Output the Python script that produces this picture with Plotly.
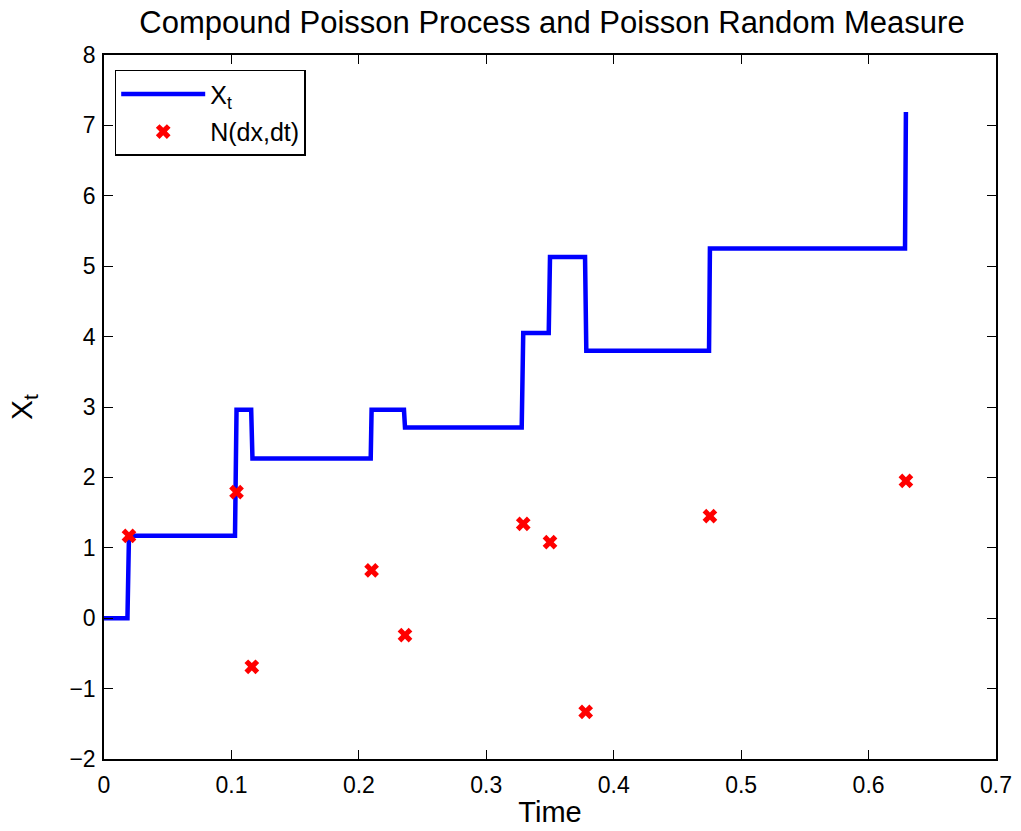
import plotly.graph_objects as go

# Path of the compound Poisson process X_t (vertices)
path_t = [0.0, 0.0184, 0.0196, 0.1028, 0.1040, 0.1155, 0.1165, 0.2093, 0.2100,
          0.2354, 0.2362, 0.3278, 0.3290, 0.3490, 0.3500, 0.3775, 0.3785,
          0.4748, 0.4755, 0.6286, 0.6293]
path_x = [0.0, 0.0, 1.17, 1.17, 2.96, 2.96, 2.27, 2.27, 2.96, 2.96, 2.71, 2.71,
          4.05, 4.05, 5.13, 5.13, 3.80, 3.80, 5.25, 5.25, 7.19]

# Poisson random measure atoms (jump time, jump size)
jump_t = [0.0196, 0.1040, 0.1160, 0.2100, 0.2362, 0.3290, 0.3500, 0.3780, 0.4755, 0.6293]
jump_x = [1.17, 1.79, -0.69, 0.68, -0.24, 1.34, 1.08, -1.33, 1.45, 1.95]

x_ticks = [0, 0.1, 0.2, 0.3, 0.4, 0.5, 0.6, 0.7]
x_ticklabels = ["0", "0.1", "0.2", "0.3", "0.4", "0.5", "0.6", "0.7"]
y_ticks = [-2, -1, 0, 1, 2, 3, 4, 5, 6, 7, 8]

FONT = "Liberation Sans, Arial, Helvetica, sans-serif"

fig = go.Figure()
fig.add_trace(go.Scatter(x=path_t, y=path_x, mode="lines", name="X<sub>t</sub>",
                         legendgroup="a",
                         line=dict(color="#0000FF", width=4.5)))
fig.add_trace(go.Scatter(x=jump_t, y=jump_x, mode="markers", name="N(dx,dt)",
                         legendgroup="b",
                         marker=dict(symbol="x", color="#FF0000", size=13,
                                     line=dict(width=0))))

axis_common = dict(showline=True, linecolor="black", linewidth=1.5, mirror="ticks",
                   ticks="inside", ticklen=9, tickwidth=1, tickcolor="black",
                   showgrid=False, zeroline=False, automargin=False,
                   tickfont=dict(family=FONT, size=23, color="black"))

fig.update_layout(
    width=1021, height=831,
    paper_bgcolor="white", plot_bgcolor="white",
    margin=dict(l=104, r=25, t=55, b=72),
    title=dict(text="Compound Poisson Process and Poisson Random Measure",
               x=0.5406, xanchor="center", y=0.9735, yanchor="middle",
               font=dict(family=FONT, size=31, color="black")),
    xaxis=dict(range=[0, 0.7], tickvals=x_ticks, ticktext=x_ticklabels,
               ticklabelstandoff=5,
               title=dict(text="Time", font=dict(family=FONT, size=29, color="black"),
                          standoff=4),
               **axis_common),
    yaxis=dict(range=[-2, 8], tickvals=y_ticks, ticklabelstandoff=2,
               title=dict(text="X<sub>t</sub>", font=dict(family=FONT, size=30, color="black"),
                          standoff=28),
               **axis_common),
    legend=dict(x=0.012, y=0.979, xanchor="left", yanchor="top",
                bgcolor="white", bordercolor="black", borderwidth=1.5,
                font=dict(family=FONT, size=25, color="black"),
                itemwidth=84, tracegroupgap=2),
    showlegend=True,
)

fig.write_html("out.html", post_script="document.body.style.margin='0';",
               config={"displayModeBar": False})
